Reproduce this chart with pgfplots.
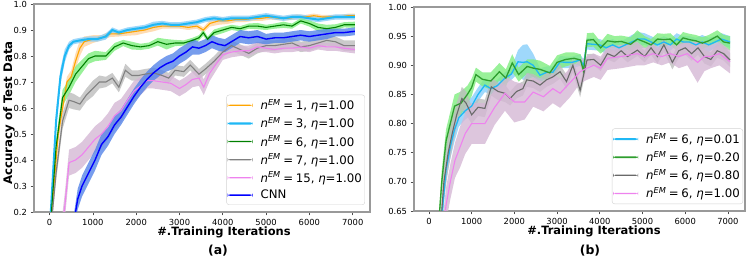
\documentclass[border=0pt]{standalone}
\usepackage{pgfplots}
\pgfplotsset{compat=1.18}
\usepackage{pgfplotstable}
\usepgfplotslibrary{fillbetween}
\usepackage{fontspec}
\setmainfont{DejaVu Sans}

\definecolor{cOrange}{HTML}{FFA500}
\definecolor{bOrange}{HTML}{FFD3A0}
\definecolor{cSky}{HTML}{1FB8F5}
\definecolor{bSky}{HTML}{87CEFA}
\definecolor{cGreen}{HTML}{008000}
\definecolor{cGreenB}{HTML}{2E9E2E}
\definecolor{bGreen}{HTML}{80EE80}
\definecolor{cGray}{HTML}{808080}
\definecolor{cDim}{HTML}{696969}
\definecolor{bGray}{HTML}{BDBDBD}
\definecolor{cViolet}{HTML}{EE82EE}
\definecolor{bViolet}{HTML}{D5B8D5}
\definecolor{cBlue}{HTML}{0000FF}
\definecolor{bBlue}{HTML}{5585E8}

\newcommand\nem{\textit{n}\textsuperscript{\textit{EM}}\hspace{0.22em}=\hspace{0.22em}}

% ---------- panel (a) ----------
\pgfplotstableread{
x m e
0 0.10 0.01
200 0.50 0.03
400 0.70 0.02
500 0.72 0.025
600 0.78 0.03
700 0.83 0.03
800 0.855 0.02
1000 0.865 0.015
1200 0.87 0.01
1400 0.885 0.012
1600 0.885 0.01
1800 0.89 0.012
2000 0.895 0.015
2200 0.90 0.012
2400 0.91 0.015
2600 0.915 0.01
2800 0.915 0.01
3000 0.915 0.01
3200 0.91 0.01
3400 0.915 0.01
3550 0.90 0.01
3700 0.925 0.012
3900 0.935 0.015
4100 0.935 0.012
4300 0.94 0.01
4500 0.94 0.01
4700 0.945 0.01
4900 0.945 0.01
5100 0.95 0.01
5300 0.945 0.008
5500 0.945 0.008
5700 0.95 0.01
5900 0.95 0.008
6100 0.955 0.008
6300 0.95 0.008
6500 0.95 0.008
6700 0.95 0.008
6900 0.955 0.008
7050 0.955 0.008
}\tAone

\pgfplotstableread{
x m e
0 0.12 0.01
150 0.55 0.04
250 0.72 0.03
350 0.80 0.025
450 0.84 0.015
550 0.855 0.01
700 0.86 0.01
900 0.865 0.01
1100 0.865 0.01
1300 0.875 0.012
1450 0.90 0.01
1600 0.89 0.01
1800 0.90 0.01
2000 0.905 0.01
2200 0.91 0.01
2400 0.92 0.012
2600 0.925 0.01
2800 0.92 0.01
3000 0.92 0.01
3200 0.925 0.01
3400 0.93 0.01
3600 0.94 0.01
3800 0.945 0.01
4000 0.94 0.01
4200 0.945 0.01
4400 0.945 0.01
4600 0.945 0.01
4800 0.95 0.01
5000 0.955 0.01
5200 0.95 0.01
5400 0.945 0.01
5600 0.95 0.01
5800 0.95 0.01
6000 0.945 0.01
6200 0.94 0.01
6400 0.945 0.01
6600 0.95 0.01
6800 0.95 0.01
7050 0.95 0.01
}\tAthree

\pgfplotstableread{
x m e
0 0.10 0.01
150 0.45 0.03
300 0.64 0.03
450 0.68 0.03
600 0.73 0.03
750 0.76 0.025
900 0.79 0.02
1050 0.80 0.02
1300 0.80 0.015
1500 0.835 0.015
1700 0.85 0.012
1900 0.84 0.015
2100 0.835 0.012
2300 0.84 0.012
2500 0.855 0.015
2700 0.845 0.02
2900 0.85 0.012
3100 0.85 0.01
3300 0.86 0.01
3450 0.87 0.01
3550 0.89 0.012
3650 0.865 0.01
3800 0.89 0.012
4000 0.90 0.012
4200 0.91 0.01
4400 0.905 0.01
4600 0.915 0.01
4800 0.915 0.012
5000 0.91 0.01
5200 0.915 0.01
5400 0.92 0.012
5600 0.915 0.01
5800 0.935 0.01
6000 0.925 0.012
6200 0.91 0.015
6400 0.905 0.015
6600 0.91 0.012
6800 0.92 0.01
7050 0.92 0.012
}\tAsix

\pgfplotstableread{
x m e
0 0.08 0.01
150 0.35 0.03
300 0.55 0.03
450 0.63 0.03
550 0.625 0.03
700 0.615 0.025
850 0.65 0.025
1000 0.675 0.03
1150 0.70 0.025
1300 0.70 0.02
1450 0.715 0.02
1600 0.68 0.02
1750 0.745 0.025
1900 0.725 0.02
2050 0.725 0.02
2200 0.73 0.02
2400 0.735 0.02
2600 0.725 0.02
2750 0.715 0.02
2900 0.745 0.02
3100 0.74 0.02
3250 0.765 0.02
3450 0.73 0.02
3600 0.75 0.02
3800 0.78 0.02
4000 0.815 0.02
4200 0.84 0.02
4400 0.825 0.02
4600 0.81 0.02
4800 0.83 0.02
5000 0.84 0.02
5200 0.84 0.02
5400 0.845 0.02
5600 0.85 0.02
5800 0.835 0.02
6000 0.84 0.02
6200 0.85 0.02
6400 0.86 0.02
6600 0.855 0.02
6800 0.84 0.02
7050 0.84 0.02
}\tAseven

\pgfplotstableread{
x m e
250 0.10 0.03
350 0.22 0.05
450 0.39 0.05
600 0.40 0.05
750 0.42 0.05
900 0.45 0.05
1050 0.48 0.05
1200 0.50 0.05
1350 0.53 0.05
1500 0.57 0.05
1650 0.59 0.045
1800 0.63 0.04
1950 0.665 0.04
2100 0.685 0.035
2250 0.705 0.03
2400 0.705 0.03
2600 0.70 0.03
2800 0.695 0.03
3000 0.675 0.03
3150 0.69 0.03
3300 0.71 0.03
3450 0.715 0.03
3560 0.68 0.03
3700 0.735 0.03
3850 0.77 0.025
4000 0.805 0.02
4200 0.815 0.02
4400 0.82 0.02
4600 0.82 0.02
4800 0.835 0.02
5000 0.83 0.015
5200 0.825 0.015
5400 0.83 0.015
5600 0.83 0.015
5800 0.835 0.015
6000 0.83 0.015
6200 0.84 0.015
6400 0.835 0.015
6600 0.835 0.015
6800 0.83 0.015
7050 0.825 0.015
}\tAfifteen

\pgfplotstableread{
x m e
550 0.15 0.03
650 0.25 0.04
750 0.30 0.04
900 0.35 0.04
1050 0.40 0.04
1200 0.46 0.04
1350 0.49 0.035
1500 0.535 0.035
1650 0.565 0.03
1800 0.605 0.03
1950 0.645 0.03
2100 0.68 0.03
2250 0.71 0.03
2400 0.735 0.03
2550 0.755 0.03
2700 0.77 0.03
2850 0.78 0.03
3000 0.80 0.03
3150 0.815 0.03
3300 0.835 0.03
3450 0.83 0.025
3600 0.84 0.025
3750 0.855 0.025
3900 0.845 0.025
4050 0.84 0.025
4200 0.855 0.025
4400 0.875 0.025
4600 0.87 0.025
4800 0.875 0.025
5000 0.865 0.02
5200 0.87 0.02
5400 0.87 0.02
5600 0.875 0.02
5800 0.88 0.02
6000 0.875 0.02
6200 0.88 0.02
6400 0.885 0.02
6600 0.89 0.015
6800 0.89 0.015
7050 0.895 0.015
}\tAcnn

% ---------- panel (b) ----------
\pgfplotstableread{
x m e
200 0.55 0.01
300 0.64 0.02
400 0.72 0.02
500 0.76 0.02
600 0.79 0.02
700 0.81 0.015
850 0.822 0.015
1000 0.83 0.015
1150 0.85 0.012
1310 0.866 0.012
1450 0.86 0.01
1600 0.865 0.01
1780 0.878 0.01
1930 0.885 0.01
2085 0.906 0.02
2200 0.905 0.03
2300 0.906 0.03
2440 0.90 0.02
2600 0.883 0.012
2760 0.888 0.01
2900 0.888 0.01
3070 0.906 0.01
3200 0.905 0.01
3350 0.905 0.01
3540 0.909 0.01
3620 0.90 0.01
3700 0.937 0.01
3850 0.936 0.01
4000 0.935 0.01
4150 0.93 0.01
4300 0.935 0.01
4450 0.93 0.01
4600 0.935 0.01
4750 0.94 0.012
4900 0.945 0.012
5050 0.945 0.01
5200 0.94 0.01
5350 0.935 0.01
5500 0.94 0.01
5650 0.935 0.01
5800 0.945 0.01
5950 0.94 0.01
6100 0.94 0.01
6250 0.935 0.012
6400 0.94 0.012
6550 0.935 0.012
6700 0.94 0.01
6850 0.945 0.01
7050 0.94 0.01
}\tBone

\pgfplotstableread{
x m e
200 0.60 0.01
300 0.70 0.02
400 0.77 0.02
500 0.80 0.02
600 0.83 0.02
750 0.835 0.02
900 0.85 0.015
1000 0.862 0.015
1100 0.884 0.012
1250 0.876 0.012
1450 0.873 0.015
1650 0.889 0.015
1800 0.878 0.015
1950 0.904 0.015
2100 0.884 0.012
2300 0.898 0.012
2450 0.895 0.015
2600 0.893 0.015
2830 0.887 0.012
3000 0.905 0.012
3200 0.91 0.012
3400 0.912 0.01
3550 0.909 0.01
3620 0.890 0.01
3700 0.943 0.012
3850 0.944 0.012
4020 0.93 0.01
4180 0.942 0.012
4350 0.94 0.01
4500 0.941 0.01
4720 0.936 0.012
4880 0.945 0.015
5050 0.940 0.01
5200 0.935 0.01
5350 0.945 0.01
5500 0.944 0.01
5650 0.945 0.01
5800 0.935 0.01
5950 0.947 0.01
6100 0.944 0.01
6250 0.942 0.01
6400 0.938 0.01
6550 0.942 0.01
6750 0.95 0.01
6900 0.94 0.012
7050 0.938 0.012
}\tBtwo

\pgfplotstableread{
x m e
250 0.60 0.02
350 0.70 0.03
450 0.75 0.03
550 0.785 0.025
650 0.815 0.02
770 0.843 0.02
870 0.835 0.02
1000 0.815 0.015
1150 0.828 0.015
1310 0.826 0.015
1460 0.863 0.015
1620 0.855 0.015
1780 0.852 0.015
1900 0.843 0.012
2050 0.855 0.012
2200 0.86 0.012
2290 0.875 0.012
2440 0.873 0.012
2600 0.866 0.012
2750 0.875 0.012
2900 0.88 0.012
3070 0.889 0.012
3220 0.872 0.012
3370 0.90 0.012
3540 0.857 0.012
3700 0.909 0.01
3860 0.91 0.01
4020 0.90 0.01
4180 0.92 0.01
4340 0.915 0.01
4500 0.925 0.01
4650 0.915 0.01
4880 0.926 0.01
5050 0.915 0.01
5200 0.93 0.012
5350 0.915 0.012
5500 0.935 0.012
5700 0.905 0.012
5850 0.925 0.012
6000 0.93 0.012
6150 0.92 0.012
6300 0.93 0.012
6450 0.915 0.012
6600 0.91 0.012
6750 0.925 0.012
6900 0.92 0.012
7050 0.909 0.012
}\tBthree

\pgfplotstableread{
x m e
300 0.60 0.02
400 0.66 0.03
500 0.70 0.03
610 0.737 0.03
730 0.76 0.035
850 0.783 0.035
1000 0.80 0.035
1150 0.80 0.035
1310 0.80 0.035
1540 0.828 0.03
1780 0.852 0.03
2000 0.837 0.035
2240 0.837 0.03
2440 0.854 0.025
2680 0.846 0.025
2900 0.86 0.025
3070 0.852 0.025
3300 0.87 0.025
3540 0.889 0.02
3700 0.895 0.02
3860 0.90 0.02
4020 0.895 0.02
4180 0.912 0.02
4500 0.915 0.02
4880 0.92 0.02
5050 0.915 0.015
5250 0.92 0.015
5450 0.915 0.015
5650 0.92 0.015
5850 0.915 0.02
6050 0.92 0.02
6290 0.905 0.035
6450 0.915 0.025
6600 0.915 0.02
6800 0.92 0.02
7050 0.906 0.02
}\tBfour

% #1 table, #2 path name, #3 band colour, #4 line colour, #5 line width, #6 legend width, #7 legend text
\newcommand\series[7]{%
  \addplot[draw=none, forget plot, name path=#2u] table[x=x, y expr=\thisrow{m}+\thisrow{e}] {#1};
  \addplot[draw=none, forget plot, name path=#2l] table[x=x, y expr=\thisrow{m}-\thisrow{e}] {#1};
  \addplot[fill=#3, fill opacity=0.8, draw=none, forget plot] fill between[of=#2u and #2l];
  \addplot[color=#4, line width=#5,
    legend image code/.code={\fill[#4, draw=none] (0bp,-#6/2) rectangle (25bp,#6/2);}] table[x=x, y=m] {#1};
  \addlegendentry{#7}
}

\pgfplotsset{
  myax/.style={
    scale only axis, anchor=south west,
    axis line style={draw=gray!80, line width=1.1bp},
    tick align=outside, tick pos=left,
    major tick length=3.5bp,
    every tick/.style={black!70, line width=0.6bp},
    tick label style={font=\fontsize{8.4}{9}\selectfont},
    /pgf/number format/assume math mode=true,
    xtick={0,1000,2000,3000,4000,5000,6000,7000},
    xticklabel style={/pgf/number format/1000 sep={}},
    scaled ticks=false,
    xmin=-360, xmax=7400,
    legend cell align=left,
    legend style={font=\fontsize{11.8}{13}\selectfont, draw=gray!35, rounded corners=2.5bp,
      fill=white, row sep=2.3bp, inner xsep=1bp, inner ysep=2.5bp,
      /tikz/every odd column/.append style={column sep=6bp},
      /tikz/every even column/.append style={column sep=0bp}},
  }
}

\begin{document}
\begin{tikzpicture}

\begin{axis}[myax, at={(34bp,47bp)}, width=336bp, height=208bp,
  ymin=0.2, ymax=1.0,
  ytick={0.2,0.3,0.4,0.5,0.6,0.7,0.8,0.9,1.0},
  yticklabel style={/pgf/number format/fixed, /pgf/number format/precision=1, /pgf/number format/fixed zerofill},
  legend style={at={(0.985,0.034)}, anchor=south east}]
\series{\tAone}{aa}{bOrange}{cOrange}{1.1bp}{1.3bp}{\nem 1, \textit{η}=1.00}
\series{\tAthree}{ab}{bSky}{cSky}{2bp}{2.4bp}{\nem 3, \textit{η}=1.00}
\series{\tAsix}{ac}{bGreen}{cGreen}{1.1bp}{1.3bp}{\nem 6, \textit{η}=1.00}
\series{\tAseven}{ad}{bGray}{cGray}{1.1bp}{1.3bp}{\nem 7, \textit{η}=1.00}
\series{\tAfifteen}{ae}{bViolet}{cViolet}{1.1bp}{1.3bp}{\nem 15, \textit{η}=1.00}
\series{\tAcnn}{af}{bBlue}{cBlue}{1.4bp}{1.5bp}{CNN}
\end{axis}

\begin{axis}[myax, at={(414bp,48bp)}, width=331bp, height=204bp,
  ymin=0.65, ymax=1.0, xmin=-350,
  ytick={0.65,0.70,0.75,0.80,0.85,0.90,0.95,1.00},
  yticklabel style={/pgf/number format/fixed, /pgf/number format/precision=2, /pgf/number format/fixed zerofill},
  legend style={at={(0.994,0.034)}, anchor=south east}]
\series{\tBone}{ba}{bSky}{cSky}{1.3bp}{1.8bp}{\nem 6, \textit{η}=0.01}
\series{\tBtwo}{bb}{bGreen}{cGreenB}{1.3bp}{1.8bp}{\nem 6, \textit{η}=0.20}
\series{\tBthree}{bc}{bGray}{cDim}{1.1bp}{1.3bp}{\nem 6, \textit{η}=0.80}
\series{\tBfour}{bd}{bViolet}{cViolet}{1.1bp}{1.3bp}{\nem 6, \textit{η}=1.00}
\end{axis}

\node[rotate=90, font=\fontsize{11.8}{13}\selectfont\bfseries] at (9bp,146bp) {Accuracy of Test Data};
\node[font=\fontsize{11.5}{13}\selectfont\bfseries] at (224bp,27bp) {\#.Training Iterations};
\node[font=\fontsize{12.5}{14}\selectfont\bfseries] at (218bp,8bp) {(a)};
\node[font=\fontsize{11.5}{13}\selectfont\bfseries] at (594bp,28bp) {\#.Training Iterations};
\node[font=\fontsize{12.5}{14}\selectfont\bfseries] at (590bp,8bp) {(b)};

\pgfresetboundingbox
\path[use as bounding box] (0,0) rectangle (747bp,259bp);
\end{tikzpicture}
\end{document}
